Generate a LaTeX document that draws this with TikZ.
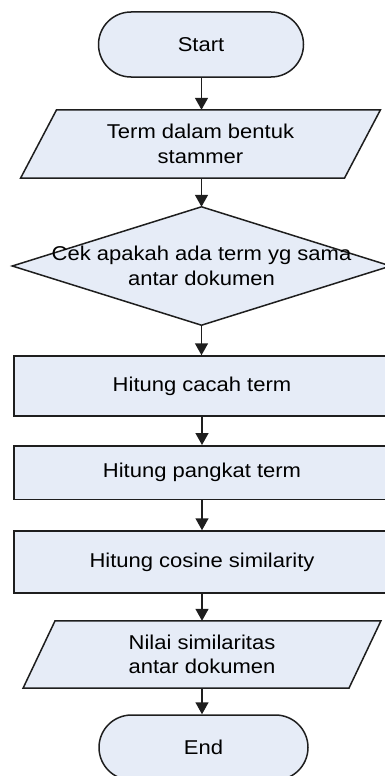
\documentclass[tikz,border=0pt]{standalone}
\usepackage{fontspec}
\setmainfont{Liberation Sans}[FakeStretch=1.1]
\usetikzlibrary{shapes.misc,arrows.meta,backgrounds}
\definecolor{boxfill}{RGB}{230,236,247}
\definecolor{edge}{RGB}{30,30,30}
\begin{document}
\begin{tikzpicture}[x=1pt,y=-1pt,
  every node/.style={font=\fontsize{20}{24.5}\selectfont, align=center, inner sep=0pt},
  terminal/.style={rounded rectangle, draw=edge, fill=boxfill, line width=1.5pt,
    minimum width=205pt, minimum height=65pt},
  process/.style={rectangle, draw=edge, fill=boxfill, line width=1.5pt, minimum width=376pt},
  outline/.style={draw=edge, fill=boxfill, line width=1.5pt, line join=miter},
  flow/.style={draw=edge, line width=1.5pt, -{Triangle[width=13pt,length=12pt]}}]
\useasboundingbox (0,0) rectangle (385,776);

% flowchart steps
\node[terminal] (start) at (201,44.5) {Start};
\node[minimum width=323.5pt, minimum height=68pt] (input) at (200.5,144) {Term dalam bentuk\\stammer};
\node[minimum width=378pt, minimum height=118pt] (check) at (201.5,266) {Cek apakah ada term yg sama\\antar dokumen};
\node[process, minimum height=60pt] (count) at (202,386) {Hitung cacah term};
\node[process, minimum height=53.5pt] (power) at (202,472.5) {Hitung pangkat term};
\node[process, minimum height=62pt] (cosine) at (202,562) {Hitung cosine similarity};
\node[minimum width=325.5pt, minimum height=67pt] (output) at (202,654.5) {Nilai similaritas\\antar dokumen};
\node[terminal, minimum width=209pt] (end) at (203.5,747.5) {End};

% data and decision outlines behind their labels
\begin{scope}[on background layer]
  \path[outline] ([xshift=18pt]input.north west) -- ([xshift=18pt]input.north east)
    -- ([xshift=-18pt]input.south east) -- ([xshift=-18pt]input.south west) -- cycle;
  \path[outline] (check.north) -- (check.east) -- (check.south) -- (check.west) -- cycle;
  \path[outline] ([xshift=16pt]output.north west) -- ([xshift=16pt]output.north east)
    -- ([xshift=-16pt]output.south east) -- ([xshift=-16pt]output.south west) -- cycle;
\end{scope}

% connectors
\draw[flow] (start.south -| check.north) -- (input.north -| check.north);
\draw[flow] (input.south -| check.north) -- (check.north);
\draw[flow] (check.south) -- (count.north -| check.south);
\draw[flow] (count.south) -- (power.north);
\draw[flow] (power.south) -- (cosine.north);
\draw[flow] (cosine.south) -- (output.north);
\draw[flow] (output.south) -- (end.north -| output.south);
\end{tikzpicture}
\end{document}
